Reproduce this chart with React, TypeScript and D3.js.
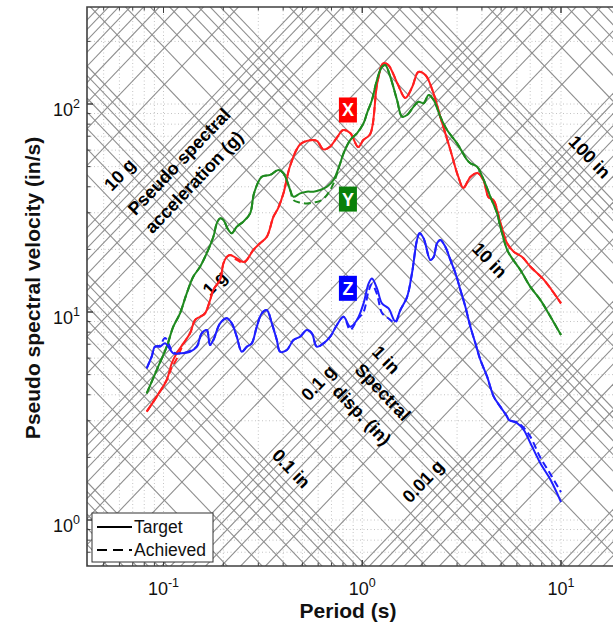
import React from 'react';
import * as d3 from 'd3';

// Response spectra (pseudo spectral velocity, in/s) versus period (s)
const periodsX = [0.0823, 0.0924, 0.1038, 0.110, 0.1165, 0.1258, 0.136, 0.1441, 0.1527, 0.1618,
  0.1715, 0.1782, 0.1926, 0.2001, 0.2082, 0.2163, 0.2337, 0.2523, 0.2625, 0.2835,
  0.3062, 0.3311, 0.3573, 0.3775, 0.4014, 0.4338, 0.4872, 0.547, 0.591, 0.6383,
  0.69, 0.7457, 0.8024, 0.87, 0.9546, 1.012, 1.097, 1.19, 1.276, 1.352,
  1.50, 1.647, 1.786, 1.915, 2.077, 2.252, 2.471, 2.776, 3.045, 3.227,
  3.50, 3.796, 4.071, 4.313, 4.57, 4.957, 5.358, 5.784, 6.376, 7.02,
  8.19, 10.0];
const targetX = [3.32, 3.92, 4.71, 5.67, 6.33, 7.07, 7.90, 9.15, 9.49, 9.86,
  11.4, 12.8, 14.3, 17.1, 18.4, 18.8, 18.1, 17.4, 17.8, 19.9,
  21.4, 23.0, 28.7, 31.6, 37.2, 50.5, 64.0, 67.0, 66.5, 60.5,
  62.5, 69.0, 75.0, 72.5, 62.1, 67.1, 71.8, 126, 157, 154,
  126, 107, 121, 142.5, 138, 117, 86.6, 60.1, 44.6, 39.5,
  44.6, 46.6, 43.1, 35.7, 34.6, 26.8, 21.4, 19.5, 18.4, 16.5,
  14.3, 11.0];
const achievedX = [3.32, 3.92, 4.71, 5.4, 5.95, 7.0, 7.90, 9.15, 9.49, 9.86,
  11.4, 12.8, 14.3, 17.1, 18.4, 18.8, 17.8, 17.2, 17.8, 19.9,
  21.4, 23.0, 28.7, 31.6, 37.2, 50.5, 64.0, 67.0, 66.5, 60.5,
  62.5, 69.0, 75.0, 72.5, 62.1, 67.1, 71.8, 126, 157, 154,
  126, 107, 121, 142.5, 138, 117, 86.6, 60.1, 44.6, 39.5,
  44.6, 46.6, 43.1, 35.7, 34.6, 26.8, 21.4, 19.5, 18.4, 16.5,
  14.3, 11.0];

const periodsY = [0.0823, 0.0924, 0.1038, 0.112, 0.1211, 0.1309, 0.1413, 0.1527, 0.1651, 0.1782,
  0.1854, 0.1926, 0.2001, 0.2120, 0.2206, 0.2337, 0.2523, 0.2728, 0.2857, 0.3123,
  0.344, 0.3788, 0.4014, 0.4338, 0.4507, 0.4872, 0.5263, 0.5683, 0.6144, 0.664,
  0.7167, 0.7748, 0.805, 0.870, 0.9403, 1.015, 1.056, 1.119, 1.186, 1.257,
  1.306, 1.384, 1.496, 1.585, 1.680, 1.813, 1.921, 2.036, 2.158, 2.287,
  2.471, 2.672, 3.0, 3.37, 3.50, 3.783, 4.084, 4.414, 4.77, 4.957,
  5.358, 5.678, 6.252, 7.02, 7.885, 8.854, 10.0];
const targetY = [4.06, 5.26, 6.81, 8.50, 9.86, 12.3, 14.8, 16.5, 19.2, 23.0,
  26.7, 28.2, 27.7, 24.8, 23.9, 25.7, 27.2, 29.8, 37.3, 44.7,
  45.6, 48.2, 46.4, 38.6, 35.8, 37.2, 37.9, 37.9, 38.6, 40.0,
  43.1, 51.9, 57.9, 67.1, 72.3, 80.8, 90.2, 104.5, 130.5, 151,
  154, 135, 104.5, 86.9, 88.5, 97.1, 102.6, 100.8, 110.5, 104.5,
  86.9, 75.0, 64.7, 53.8, 51.9, 50.0, 43.1, 35.8, 29.8, 25.7,
  19.9, 18.1, 15.9, 13.2, 11.4, 9.49, 7.75];
const achievedY = [4.06, 5.26, 6.81, 8.50, 9.86, 12.3, 14.8, 16.5, 19.2, 23.0,
  26.7, 28.2, 27.7, 24.8, 23.9, 25.7, 27.2, 29.8, 37.3, 44.7,
  45.6, 48.2, 46.4, 38.6, 34.5, 33.6, 33.2, 33.6, 34.2, 36.5,
  41.5, 51.9, 57.9, 67.1, 72.3, 80.8, 90.2, 104.5, 130.5, 151,
  154, 135, 104.5, 86.9, 88.5, 97.1, 102.6, 100.8, 110.5, 104.5,
  86.9, 75.0, 64.7, 53.8, 51.9, 50.0, 43.1, 35.8, 29.8, 25.7,
  19.9, 18.1, 15.9, 13.2, 11.4, 9.49, 7.75];

const periodsZ = [0.0823, 0.0872, 0.0906, 0.096, 0.1018, 0.112, 0.1211, 0.136, 0.147, 0.1557,
  0.1651, 0.1715, 0.1782, 0.1926, 0.2082, 0.2206, 0.2337, 0.2477, 0.2625, 0.278,
  0.2947, 0.3123, 0.3311, 0.3508, 0.3717, 0.3862, 0.4175, 0.4507, 0.4872, 0.5263,
  0.5578, 0.591, 0.6383, 0.69, 0.7457, 0.805, 0.87, 0.9403, 1.015, 1.076,
  1.119, 1.186, 1.257, 1.357, 1.466, 1.554, 1.68, 1.78, 1.886, 1.944,
  2.036, 2.201, 2.287, 2.378, 2.471, 2.618, 2.776, 2.941, 3.116, 3.302,
  3.5, 3.709, 3.931, 4.249, 4.587, 4.957, 5.358, 5.458, 6.016, 6.494,
  7.02, 7.885, 8.854, 10.0];
const targetZ = [5.36, 6.10, 6.81, 6.81, 7.07, 6.33, 6.33, 6.44, 6.81, 7.90,
  8.19, 6.94, 7.33, 8.82, 9.33, 8.82, 7.61, 6.44, 6.81, 7.07,
  8.50, 9.86, 10.2, 8.82, 7.33, 6.44, 6.57, 7.33, 7.61, 8.19,
  7.90, 6.81, 7.07, 7.61, 8.66, 9.49, 8.50, 9.15, 11.0, 13.7,
  14.5, 13.0, 11.0, 10.4, 9.02, 10.2, 11.8, 15.4, 22.2, 23.9,
  22.6, 17.8, 18.4, 21.4, 22.2, 20.6, 17.8, 15.4, 12.8, 10.6,
  8.50, 7.07, 5.88, 4.89, 3.92, 3.50, 3.14, 3.03, 2.92, 2.71,
  2.34, 1.87, 1.56, 1.22];
const achievedZ = [5.36, 6.10, 6.81, 6.9, 7.5, 6.4, 6.33, 6.5, 6.81, 7.90,
  8.19, 6.94, 7.33, 8.82, 9.33, 8.82, 7.61, 6.44, 6.81, 7.07,
  8.50, 9.86, 10.2, 8.82, 7.33, 6.44, 6.57, 7.33, 7.61, 8.19,
  7.90, 6.81, 7.07, 7.61, 8.66, 9.49, 8.2, 9.15, 10.0, 12.6,
  13.6, 12.2, 9.9, 9.3, 8.9, 10.2, 11.8, 15.4, 22.2, 23.9,
  22.6, 17.8, 18.4, 21.4, 22.2, 20.6, 17.8, 15.4, 12.8, 10.6,
  8.50, 7.07, 5.88, 4.89, 3.92, 3.50, 3.14, 3.03, 2.95, 2.78,
  2.51, 1.99, 1.66, 1.36];

const xTickValues = [0.1, 1, 10];
const xTickExponents = ['-1', '0', '1'];
const yTickValues = [1, 10, 100];
const yTickExponents = ['0', '1', '2'];

const gridMultipliers = [1, 2, 3, 4, 5, 6, 7, 8, 9];
const accelDecades = [-4, -3, -2, -1, 0, 1, 2]; // g
const dispDecades = [-4, -3, -2, -1, 0, 1, 2, 3]; // in

const components = ['X', 'Y', 'Z'];
const componentColors = ['#ff1f1f', '#1f8a1f', '#1f1fff'];
const boxColors = ['#ff0000', '#0a800a', '#0000ff'];
const legendLabels = ['Target', 'Achieved'];

const G_IN = 386.089; // in/s^2
const TWO_PI = 2 * Math.PI;
const FONT = '"Liberation Sans", Arial, sans-serif';

export default function App() {
  const width = 613;
  const height = 630;
  const left = 87, right = 626, top = 7, bottom = 566;

  const x = d3.scaleLog().domain([0.1, 10]).range([163.5, 561]);
  const y = d3.scaleLog().domain([1, 100]).range([520, 104]);
  const tMin = x.invert(left), tMax = x.invert(right);
  const vMin = y.invert(bottom), vMax = y.invert(top);

  const accelV = (a: number, t: number) => (a * G_IN * t) / TWO_PI;
  const dispV = (d: number, t: number) => (TWO_PI * d) / t;

  const tA = tMin / 2, tB = tMax * 2;
  const accelLines: number[] = [];
  accelDecades.forEach((k) => gridMultipliers.forEach((m) => accelLines.push(m * Math.pow(10, k))));
  const dispLines: number[] = [];
  dispDecades.forEach((k) => gridMultipliers.forEach((m) => dispLines.push(m * Math.pow(10, k))));

  const accelAngle = (Math.atan2(y(accelV(1, 1)) - y(accelV(1, 0.1)), x(1) - x(0.1)) * 180) / Math.PI;
  const dispAngle = (Math.atan2(y(dispV(1, 1)) - y(dispV(1, 0.1)), x(1) - x(0.1)) * 180) / Math.PI;

  const minorT: number[] = [];
  [-2, -1, 0, 1].forEach((k) => gridMultipliers.forEach((m) => {
    const t = m * Math.pow(10, k);
    if (t > tMin && t < tMax) minorT.push(t);
  }));
  const minorV: number[] = [];
  [-1, 0, 1, 2].forEach((k) => gridMultipliers.forEach((m) => {
    const v = m * Math.pow(10, k);
    if (v > vMin && v < vMax) minorV.push(v);
  }));

  const line = d3.line<[number, number]>()
    .x((d) => x(d[0]))
    .y((d) => y(d[1]))
    .curve(d3.curveCatmullRom.alpha(0.5));

  const series = [
    { periods: periodsX, target: targetX, achieved: achievedX },
    { periods: periodsY, target: targetY, achieved: achievedY },
    { periods: periodsZ, target: targetZ, achieved: achievedZ },
  ];
  const pairs = (ts: number[], vs: number[]) => ts.map((t, i) => [t, vs[i]] as [number, number]);

  // annotation placement along grid lines: [text, value, period]
  const accelLabels: [string, number, number][] = [
    ['10 g', 10, 0.0673], ['1 g', 1, 0.2024], ['0.1 g', 0.1, 0.672], ['0.01 g', 0.01, 2.26],
  ];
  const dispLabels: [string, number, number][] = [
    ['0.1 in', 0.1, 0.3936], ['1 in', 1, 1.18], ['10 in', 10, 3.918], ['100 in', 100, 12.48],
  ];
  const boxAt = [[0.847, 93.6], [0.847, 34.9], [0.847, 13.0]];

  return (
    <svg width={width} height={height} style={{ position: 'absolute', left: 0, top: 0, background: '#fff' }}
      fontFamily={FONT}>
      <defs>
        <clipPath id="plot-area">
          <rect x={left} y={top} width={right - left} height={bottom - top} />
        </clipPath>
      </defs>
      <rect x={left} y={top} width={right - left} height={bottom - top} fill="#fff" />

      <g clipPath="url(#plot-area)">
        {/* dotted log grid */}
        {minorT.map((t, i) => (
          <line key={'gt' + i} x1={x(t)} x2={x(t)} y1={top} y2={bottom}
            stroke="#c4c4c4" strokeWidth={1} strokeDasharray="1 2.5" />
        ))}
        {minorV.map((v, i) => (
          <line key={'gv' + i} x1={left} x2={right} y1={y(v)} y2={y(v)}
            stroke="#c4c4c4" strokeWidth={1} strokeDasharray="1 2.5" />
        ))}
        {/* constant acceleration lines */}
        {accelLines.map((a, i) => (
          <line key={'a' + i} x1={x(tA)} y1={y(accelV(a, tA))} x2={x(tB)} y2={y(accelV(a, tB))}
            stroke="#8e8e8e" strokeWidth={1.1} />
        ))}
        {/* constant displacement lines */}
        {dispLines.map((d, i) => (
          <line key={'d' + i} x1={x(tA)} y1={y(dispV(d, tA))} x2={x(tB)} y2={y(dispV(d, tB))}
            stroke="#8e8e8e" strokeWidth={1.1} />
        ))}

        {/* grid annotations */}
        <g fontWeight="bold" fontSize={18} fill="#000">
          {accelLabels.map(([txt, a, t]) => (
            <text key={txt} transform={`translate(${x(t)},${y(accelV(a, t))}) rotate(${accelAngle})`}
              y={-7} textAnchor="middle">{txt}</text>
          ))}
          {dispLabels.map(([txt, d, t]) => (
            <text key={txt} transform={`translate(${x(t)},${y(dispV(d, t))}) rotate(${dispAngle})`}
              y={-7} textAnchor="middle">{txt}</text>
          ))}
          <text transform={`translate(${x(0.1197)},${y(52.9)}) rotate(${accelAngle})`}
            textAnchor="middle" dy="0.35em">Pseudo spectral</text>
          <text transform={`translate(${x(0.1423)},${y(42.2)}) rotate(${accelAngle})`}
            textAnchor="middle" dy="0.35em">acceleration (g)</text>
          <text transform={`translate(${x(1.271)},${y(4.125)}) rotate(${dispAngle})`}
            textAnchor="middle" dy="0.35em">Spectral</text>
          <text transform={`translate(${x(0.9965)},${y(3.197)}) rotate(${dispAngle})`}
            textAnchor="middle" dy="0.35em">disp. (in)</text>
        </g>

        {/* spectra */}
        {series.map((s, i) => (
          <path key={'ach' + i} d={line(pairs(s.periods, s.achieved)) || ''} fill="none"
            stroke={componentColors[i]} strokeWidth={2} strokeDasharray="7 4" />
        ))}
        {series.map((s, i) => (
          <path key={'tgt' + i} d={line(pairs(s.periods, s.target)) || ''} fill="none"
            stroke={componentColors[i]} strokeWidth={2} />
        ))}

        {/* component tags */}
        {components.map((c, i) => (
          <g key={c} transform={`translate(${x(boxAt[i][0])},${y(boxAt[i][1])})`}>
            <rect x={-9} y={-12.5} width={18} height={25} fill={boxColors[i]} />
            <text textAnchor="middle" dy="0.36em" fill="#fff" fontWeight="bold" fontSize={18}>{c}</text>
          </g>
        ))}
      </g>

      {/* ticks */}
      <g stroke="#404040" strokeWidth={1}>
        {minorT.concat(xTickValues).map((t, i) => {
          const major = xTickValues.includes(t);
          const len = major ? 6 : 3.5;
          return (
            <g key={'xt' + i}>
              <line x1={x(t)} x2={x(t)} y1={bottom} y2={bottom - len} />
              <line x1={x(t)} x2={x(t)} y1={top} y2={top + len} />
            </g>
          );
        })}
        {minorV.concat(yTickValues).map((v, i) => {
          const major = yTickValues.includes(v);
          const len = major ? 6 : 3.5;
          return <line key={'yt' + i} x1={left} x2={left + len} y1={y(v)} y2={y(v)} />;
        })}
      </g>

      {/* frame */}
      <path d={`M${right},${top}H${left}V${bottom}H${right}`} fill="none" stroke="#404040" strokeWidth={1.6} />

      {/* tick labels */}
      <g fill="#111" fontSize={18}>
        {xTickValues.map((t, i) => (
          <text key={'xl' + i} x={x(t)} y={595} textAnchor="middle">
            10<tspan fontSize={12.5} dy={-8}>{xTickExponents[i]}</tspan>
          </text>
        ))}
        {yTickValues.map((v, i) => (
          <text key={'yl' + i} x={80} y={y(v) + 12} textAnchor="end">
            10<tspan fontSize={12.5} dy={-8}>{yTickExponents[i]}</tspan>
          </text>
        ))}
      </g>

      {/* axis titles */}
      <text x={348} y={618} textAnchor="middle" fontWeight="bold" fontSize={21} fill="#111">Period (s)</text>
      <text transform="translate(40,288) rotate(-90)" textAnchor="middle" fontWeight="bold" fontSize={21}
        fill="#111">Pseudo spectral velocity (in/s)</text>

      {/* legend */}
      <g>
        <rect x={92} y={513} width={121} height={49} fill="#fff" stroke="#333" strokeWidth={1} />
        <line x1={97} x2={132} y1={527} y2={527} stroke="#000" strokeWidth={2} />
        <line x1={97} x2={132} y1={550} y2={550} stroke="#000" strokeWidth={2} strokeDasharray="10 6" />
        <text x={134} y={533} fontSize={17.5} fill="#111">{legendLabels[0]}</text>
        <text x={134} y={556} fontSize={17.5} fill="#111">{legendLabels[1]}</text>
      </g>
    </svg>
  );
}
